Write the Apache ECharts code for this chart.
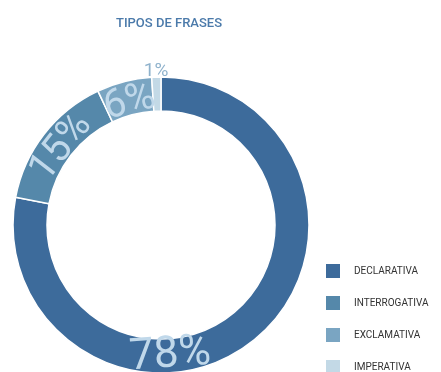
<!DOCTYPE html>
<html>
<head>
<meta charset="utf-8">
<script src="https://cdn.jsdelivr.net/npm/echarts@6/dist/echarts.min.js"></script>
<style>html,body{margin:0;padding:0;background:#fff}#c{width:441px;height:372px}</style>
</head>
<body>
<div id="c"></div>
<script>
var categories = ['DECLARATIVA', 'INTERROGATIVA', 'EXCLAMATIVA', 'IMPERATIVA'];
var values = [78, 15, 6, 1];
var colors = ['#3d6b9b', '#5588aa', '#7aa5c2', '#c3d9e6'];
var FONT = 'Roboto, sans-serif';

var CX = 161, CY = 225, R0 = 114, R1 = 148;

var total = values.reduce(function (a, b) { return a + b; }, 0);
var midAngles = [];
(function () {
  var acc = 0;
  values.forEach(function (v) { midAngles.push((acc + v / 2) / total * 360); acc += v; });
})();
midAngles[0] = 176; // the large slice's label sits at the bottom of the ring in the reference

var data = categories.map(function (c, i) {
  var d = { name: c, value: values[i], itemStyle: { color: colors[i] } };
  if (i === 0) d.label = { fontSize: 44 };
  if (i === 3) d.label = { fontSize: 19, color: '#8fb2cc' };
  return d;
});

var chart = echarts.init(document.getElementById('c'));
chart.setOption({
  animation: false,
  title: {
    text: 'TIPOS DE FRASES',
    left: 164, top: 12, textAlign: 'center',
    textStyle: { fontFamily: FONT, fontSize: 13, fontWeight: 500, color: '#4b7aaa' }
  },
  legend: {
    orient: 'vertical', left: 324, top: 262, height: 150, padding: 0,
    icon: 'rect', itemWidth: 16, itemHeight: 16, itemGap: 14,
    data: categories,
    textStyle: { fontFamily: FONT, fontSize: 10, color: '#333', padding: [0, 0, 0, 8] }
  },
  series: [{
    type: 'pie',
    center: [CX, CY],
    radius: [R0, R1],
    startAngle: 90,
    clockwise: true,
    avoidLabelOverlap: false,
    itemStyle: { borderColor: '#fff', borderWidth: 1.5 },
    label: {
      show: true, position: 'inside', rotate: 'tangential',
      formatter: '{c}%', fontFamily: FONT, fontWeight: 400, fontSize: 40, color: '#c0d8ea'
    },
    labelLine: { show: false },
    emphasis: { disabled: true },
    labelLayout: function (p) {
      var i = p.dataIndex, ang = midAngles[i], rad = ang * Math.PI / 180;
      var r, rot;
      if (i === 3) {
        r = R1 + 6; rot = 0;
      } else {
        r = i === 0 ? 131 : 126;
        rot = ang > 90 && ang < 270 ? 180 - ang : -ang;
      }
      return { x: CX + r * Math.sin(rad), y: CY - r * Math.cos(rad), rotate: rot, align: 'center', verticalAlign: 'middle' };
    },
    data: data
  }]
});
</script>
</body>
</html>
